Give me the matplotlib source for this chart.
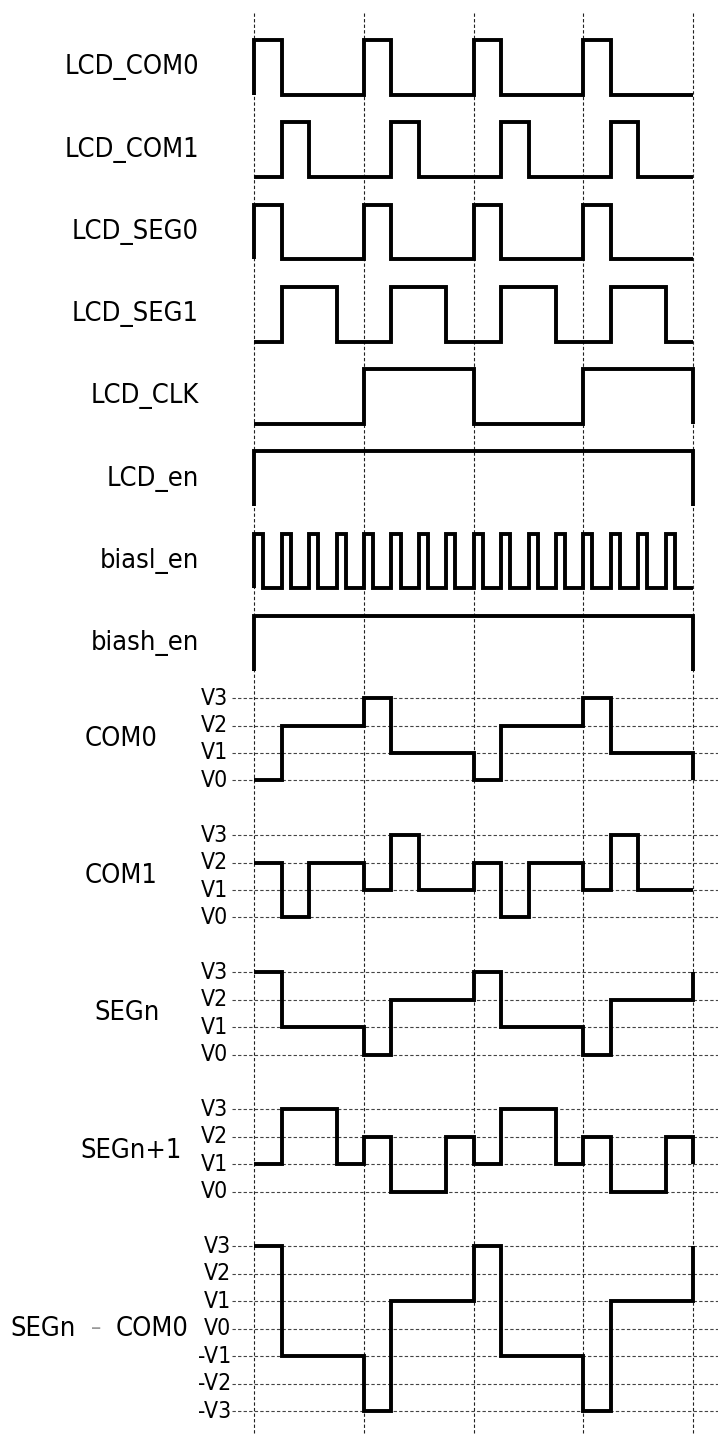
import matplotlib
matplotlib.use("Agg")
import matplotlib.pyplot as plt

# ----------------------------------------
# 신호 데이터 (time unit: LCD_CLK 1/4 period)
# ----------------------------------------

digital_names = ["LCD_COM0", "LCD_COM1", "LCD_SEG0", "LCD_SEG1",
                 "LCD_CLK", "LCD_en", "biasl_en", "biash_en"]

com0_t = [0, 0, 1, 4, 5, 8, 9, 12, 13, 16]
com0_v = [0, 1, 0, 1, 0, 1, 0, 1, 0, 0]
com1_t = [0, 1, 2, 5, 6, 9, 10, 13, 14, 16]
com1_v = [0, 1, 0, 1, 0, 1, 0, 1, 0, 0]
seg0_t = [0, 0, 1, 4, 5, 8, 9, 12, 13, 16]
seg0_v = [0, 1, 0, 1, 0, 1, 0, 1, 0, 0]
seg1_t = [0, 1, 3, 5, 7, 9, 11, 13, 15, 16]
seg1_v = [0, 1, 0, 1, 0, 1, 0, 1, 0, 0]
clk_t = [0, 4, 8, 12, 16, 16]
clk_v = [0, 1, 0, 1, 0, 0]
en_t = [0, 0, 16, 16]
en_v = [0, 1, 1, 0]
biasl_rise = [0, 1, 2, 3, 4, 5, 6, 7, 8, 9, 10, 11, 12, 13, 14, 15]
biasl_width = 1 / 3
biash_t = [0, 0, 16, 16]
biash_v = [0, 1, 1, 0]

analog_names = ["COM0", "COM1", "SEGn", "SEGn+1"]
level_labels = ["V3", "V2", "V1", "V0"]

a_com0_t = [0, 1, 4, 5, 8, 9, 12, 13, 16]
a_com0_v = [0, 2, 3, 1, 0, 2, 3, 1, 0]
a_com1_t = [0, 1, 2, 4, 5, 6, 8, 9, 10, 12, 13, 14, 16]
a_com1_v = [2, 0, 2, 1, 3, 1, 2, 0, 2, 1, 3, 1, 1]
a_segn_t = [0, 1, 4, 5, 8, 9, 12, 13, 16]
a_segn_v = [3, 1, 0, 2, 3, 1, 0, 2, 3]
a_segn1_t = [0, 1, 3, 4, 5, 7, 8, 9, 11, 12, 13, 15, 16]
a_segn1_v = [1, 3, 1, 2, 0, 2, 1, 3, 1, 2, 0, 2, 1]

diff_levels = [3, 2, 1, 0, -1, -2, -3]
diff_labels = ["V3", "V2", "V1", "V0", "-V1", "-V2", "-V3"]
diff_t = [0, 1, 4, 5, 8, 9, 12, 13, 16]
diff_v = [3, -1, -3, 1, 3, -1, -3, 1, 3]

grid_times = [0, 4, 8, 12, 16]

# ----------------------------------------
# 레이아웃 (pixel 기준)
# ----------------------------------------
W, H = 718, 1434
T0_PX = 254.3      # t=0 x 위치
UNIT = 27.42       # 1 unit (x, y 공통)
Y0_PX = 40.0       # 첫 신호 high 위치

LW = 2.8
FS_LABEL = 19.5
FS_LEVEL = 16.5
FONT = dict(family="DejaVu Sans", fontstretch="condensed")


def px_x(px):
    return (px - T0_PX) / UNIT


def px_y(px):
    return (px - Y0_PX) / UNIT


def step(ax, t, y):
    ax.plot(t, y, drawstyle="steps-post", color="black", lw=LW,
            solid_joinstyle="miter", solid_capstyle="butt", zorder=3)


fig = plt.figure(figsize=(W / 100, H / 100), dpi=100)
ax = fig.add_axes([0, 0, 1, 1])
ax.set_xlim(px_x(0), px_x(W))
ax.set_ylim(px_y(H), px_y(0))
ax.axis("off")

# 세로 점선
for gt in grid_times:
    ax.plot([gt, gt], [px_y(13), px_y(H)], color="#222222", lw=0.8,
            dashes=(3, 2), zorder=1)

# digital 신호
digital = [(com0_t, com0_v), (com1_t, com1_v), (seg0_t, seg0_v),
           (seg1_t, seg1_v), (clk_t, clk_v), (en_t, en_v), None,
           (biash_t, biash_v)]

bt, bv = [0], [0]
for r in biasl_rise:
    bt += [r, r + biasl_width]
    bv += [1, 0]
bt.append(16)
bv.append(0)
digital[6] = (bt, bv)

for i, (name, (t, v)) in enumerate(zip(digital_names, digital)):
    top = 3 * i
    step(ax, t, [top + 2 * (1 - x) for x in v])
    ax.text(px_x(199), top + 1, name, ha="right", va="center",
            fontsize=FS_LABEL, **FONT)

# analog 신호 (V0~V3)
analog = [(a_com0_t, a_com0_v), (a_com1_t, a_com1_v),
          (a_segn_t, a_segn_v), (a_segn1_t, a_segn1_v)]
analog_label_x = [121, 121, 127, 131]

for j, (name, (t, v)) in enumerate(zip(analog_names, analog)):
    top = 24 + 5 * j
    for k, lab in enumerate(level_labels):
        ax.plot([px_x(232), px_x(W)], [top + k, top + k], color="#444444",
                lw=0.8, dashes=(3, 2), zorder=1)
        ax.text(px_x(228), top + k, lab, ha="right", va="center",
                fontsize=FS_LEVEL, **FONT)
    step(ax, t, [top + 3 - x for x in v])
    ax.text(px_x(analog_label_x[j]), top + 1.5, name, ha="center",
            va="center", fontsize=FS_LABEL, **FONT)

# SEGn - COM0
top = 44
for lv, lab in zip(diff_levels, diff_labels):
    ax.plot([px_x(232), px_x(W)], [top + 3 - lv, top + 3 - lv],
            color="#444444", lw=0.8, dashes=(3, 2), zorder=1)
    ax.text(px_x(231), top + 3 - lv, lab, ha="right", va="center",
            fontsize=FS_LEVEL, **FONT)
step(ax, diff_t, [top + 3 - x for x in diff_v])
ax.text(px_x(10), top + 3, "SEGn", ha="left", va="center",
        fontsize=FS_LABEL, **FONT)
ax.text(px_x(96), top + 3, "–", ha="center", va="center",
        fontsize=FS_LEVEL, color="#999999", **FONT)
ax.text(px_x(188), top + 3, "COM0", ha="right", va="center",
        fontsize=FS_LABEL, **FONT)

fig.savefig("out.png", dpi=100)
